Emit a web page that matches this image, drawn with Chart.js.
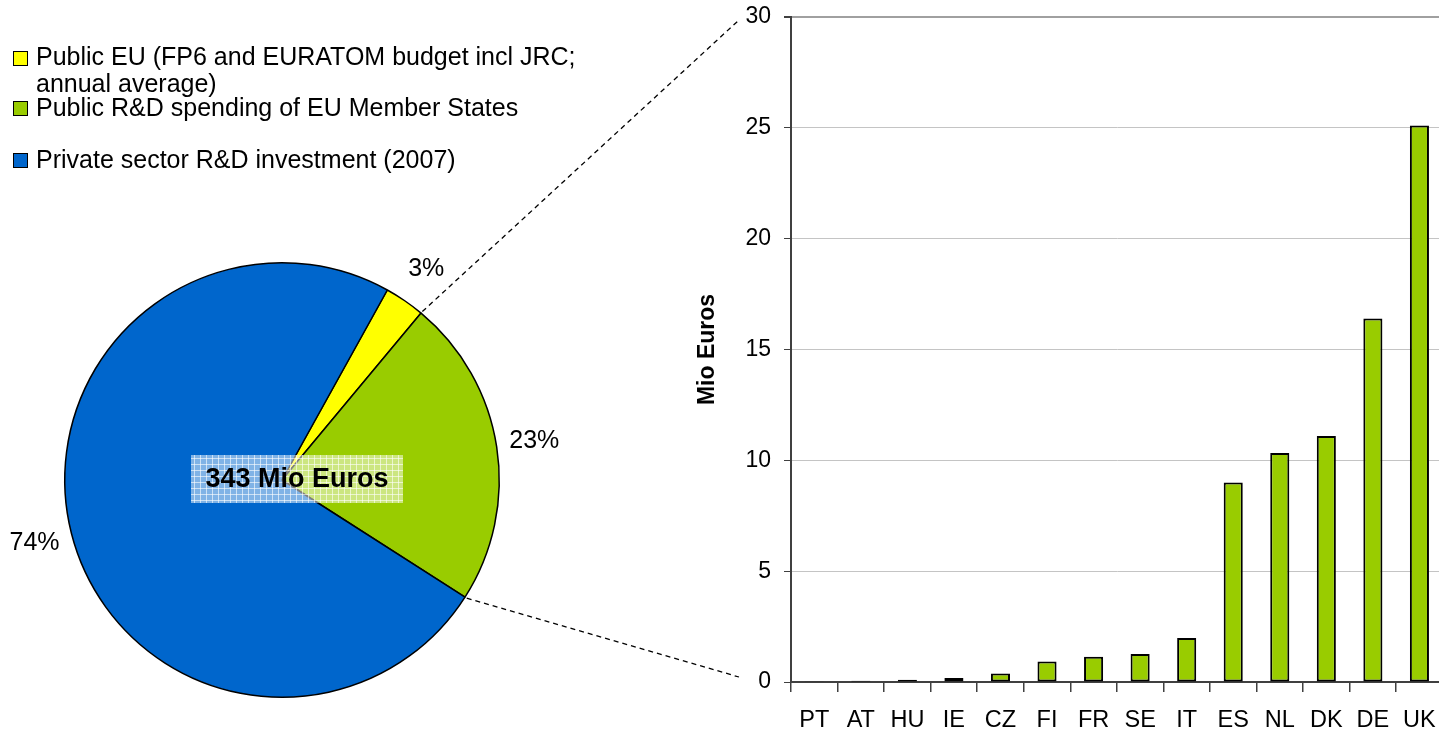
<!DOCTYPE html>
<html>
<head>
<meta charset="utf-8">
<script src="https://cdn.jsdelivr.net/npm/chart.js@4/dist/chart.umd.min.js"></script>
<style>
  body { margin: 0; width: 1439px; height: 731px; overflow: hidden; position: relative; background: #fff; font-family: "Liberation Sans", Arial, sans-serif; }
  #pie { position: absolute; left: 0; top: 0; }
  #bar { position: absolute; left: 640px; top: 0; }
  #overlay { position: absolute; left: 0; top: 0; pointer-events: none; }
  .leg { position: absolute; left: 36px; font-size: 25px; line-height: 27px; color: #000; white-space: nowrap; }
  .box { position: absolute; left: 13px; width: 13px; height: 13px; border: 1.5px solid #000; }
</style>
</head>
<body>
<canvas id="pie" width="640" height="731"></canvas>
<canvas id="bar" width="810" height="731"></canvas>
<canvas id="overlay" width="1439" height="731"></canvas>

<div class="box" style="top:51px;background:#ffff00"></div>
<div class="leg" style="top:43px">Public EU (FP6 and EURATOM budget incl JRC;<br>annual average)</div>
<div class="box" style="top:101px;background:#99cc00"></div>
<div class="leg" style="top:94px">Public R&amp;D spending of EU Member States</div>
<div class="box" style="top:153px;background:#0066cc"></div>
<div class="leg" style="top:146px">Private sector R&amp;D investment (2007)</div>

<script>
// Pie: split of R&D funding
const pieLabels = ['Public EU (FP6 and EURATOM budget incl JRC; annual average)', 'Public R&D spending of EU Member States', 'Private sector R&D investment (2007)'];
const pieValues = [3, 23, 74];
const pieColors = ['#ffff00', '#99cc00', '#0066cc'];
const totalLabel = '343 Mio Euros';

// Bars: public EU money by member state
const countries = ['PT', 'AT', 'HU', 'IE', 'CZ', 'FI', 'FR', 'SE', 'IT', 'ES', 'NL', 'DK', 'DE', 'UK'];
const countryValues = [0.03, 0.06, 0.1, 0.18, 0.38, 0.92, 1.14, 1.26, 1.98, 9.0, 10.33, 11.1, 16.4, 25.1];
const yTicks = [0, 5, 10, 15, 20, 25, 30];

const FONT = '"Liberation Sans", Arial, sans-serif';
Chart.defaults.font.family = FONT;
Chart.defaults.color = '#000';

const pieExtras = {
  id: 'pieExtras',
  afterDatasetsDraw(chart) {
    const ctx = chart.ctx;
    const arcs = chart.getDatasetMeta(0).data;
    ctx.save();
    ctx.font = '25px ' + FONT;
    ctx.fillStyle = '#000';
    ctx.textAlign = 'center';
    ctx.textBaseline = 'middle';
    arcs.forEach((arc, i) => {
      const mid = (arc.startAngle + arc.endAngle) / 2;
      const r = arc.outerRadius + 38;
      ctx.fillText(pieValues[i] + '%', arc.x + r * Math.cos(mid), arc.y + r * Math.sin(mid));
    });

    // hatched label box in the middle
    const bx = 191, by = 455, bw = 212, bh = 48;
    ctx.fillStyle = 'rgba(255,255,255,0.5)';
    ctx.fillRect(bx, by, bw, bh);
    ctx.strokeStyle = 'rgba(255,255,255,0.6)';
    ctx.lineWidth = 1;
    ctx.beginPath();
    for (let x = bx + 3; x < bx + bw; x += 6) { ctx.moveTo(x + 0.5, by); ctx.lineTo(x + 0.5, by + bh); }
    for (let y = by + 3; y < by + bh; y += 6) { ctx.moveTo(bx, y + 0.5); ctx.lineTo(bx + bw, y + 0.5); }
    ctx.stroke();
    ctx.fillStyle = '#000';
    ctx.font = 'bold 27px ' + FONT;
    ctx.fillText(totalLabel, bx + bw / 2, by + bh / 2 + 1);
    ctx.restore();
  }
};

const pieChart = new Chart(document.getElementById('pie'), {
  type: 'pie',
  data: {
    labels: pieLabels,
    datasets: [{ data: pieValues, backgroundColor: pieColors, borderColor: '#000', borderWidth: 1.5 }]
  },
  options: {
    responsive: false,
    animation: false,
    rotation: 29,
    layout: { padding: { left: 64, top: 262, right: 140, bottom: 33 } },
    plugins: { legend: { display: false }, tooltip: { enabled: false } }
  },
  plugins: [pieExtras]
});

const barChart = new Chart(document.getElementById('bar'), {
  type: 'bar',
  data: {
    labels: countries,
    datasets: [{
      data: countryValues,
      backgroundColor: '#99cc00',
      borderColor: '#000',
      borderWidth: 2,
      borderSkipped: false,
      categoryPercentage: 1,
      barPercentage: 0.41
    }]
  },
  options: {
    responsive: false,
    animation: false,
    layout: { padding: { top: 17, right: 7, left: 0, bottom: 0 } },
    plugins: { legend: { display: false }, tooltip: { enabled: false } },
    scales: {
      x: {
        afterFit: s => { s.height = 49; },
        grid: { drawOnChartArea: false, tickLength: 10, tickColor: '#404040', lineWidth: 1.5 },
        border: { color: '#404040', width: 2 },
        ticks: { font: { size: 23.5 }, color: '#000', padding: 14 }
      },
      y: {
        min: 0,
        max: 30,
        afterBuildTicks: s => { s.ticks = yTicks.map(v => ({ value: v })); },
        afterFit: s => { s.width = 151; s.paddingTop = 10; s.paddingBottom = 0; },
        grid: {
          color: c => (c.tick && c.tick.value === 30 ? '#a0a0a0' : '#c4c4c4'),
          lineWidth: c => (c.tick && c.tick.value === 30 ? 2 : 1),
          tickColor: '#404040',
          tickLength: 7
        },
        border: { color: '#404040', width: 2 },
        ticks: { font: { size: 23 }, color: '#000', padding: 13 },
        title: { display: true, text: 'Mio Euros', font: { size: 23, weight: 'bold' }, color: '#000', padding: { top: 54, bottom: 0 } }
      }
    }
  }
});

// dashed connectors from the pie wedge to the bar axis
function drawConnectors() {
  const ctx = document.getElementById('overlay').getContext('2d');
  const arcs = pieChart.getDatasetMeta(0).data;
  const ys = barChart.scales.y;
  const endX = 640 + ys.right - 52;
  const pts = [
    [arcs[0].endAngle, ys.getPixelForValue(30) + 3],
    [arcs[1].endAngle, ys.getPixelForValue(0) - 5]
  ];
  ctx.strokeStyle = '#000';
  ctx.lineWidth = 1.3;
  ctx.setLineDash([5, 4]);
  pts.forEach(([a, ty]) => {
    const r = arcs[0].outerRadius + 2;
    ctx.beginPath();
    ctx.moveTo(arcs[0].x + r * Math.cos(a), arcs[0].y + r * Math.sin(a));
    ctx.lineTo(endX, ty);
    ctx.stroke();
  });
}
drawConnectors();
</script>
</body>
</html>
